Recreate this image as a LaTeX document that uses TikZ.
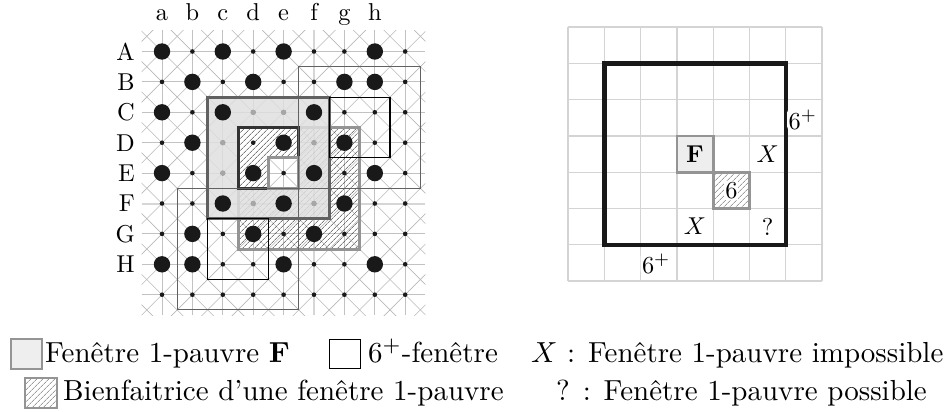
\documentclass[tikz,border=0pt]{standalone}
\usepackage{graphicx}
\usetikzlibrary{patterns.meta}
\definecolor{dotc}{gray}{0.1}
\definecolor{gridc}{gray}{0.76}
\definecolor{diagc}{gray}{0.72}
\definecolor{fborder}{gray}{0.38}
\definecolor{hborder}{gray}{0.58}
\definecolor{rgridc}{gray}{0.83}
\newcommand{\labtxt}[1]{\scalebox{2.44}{#1}}
\newcommand{\legtxt}[1]{\scalebox{2.9}{#1}}
\newcommand{\leftgridlines}{%
  \begin{scope}
    \clip (-0.67,-0.7) rectangle (8.66,8.67);
    \foreach \k in {-10,...,18} {
      \draw[diagc, line width=0.6pt] (\k-1,-1) -- (\k+11,11);
      \draw[diagc, line width=0.6pt] (\k+1,-1) -- (\k-11,11);
    }
  \end{scope}
  \foreach \i in {0,...,8} {
    \draw[gridc, line width=0.9pt] (-0.67,\i) -- (8.66,\i);
    \draw[gridc, line width=0.9pt] (\i,-0.7) -- (\i,8.67);
  }
  \draw[gray!32, line width=2pt] (-0.67,5) -- (8.66,5);
  \draw[gray!32, line width=2pt] (5,-0.7) -- (5,8.67);
}
\begin{document}
\begin{tikzpicture}[x=1pt,y=-1pt,
  hatch/.style={pattern={Lines[angle=45,distance=4pt,line width=0.6pt]}, pattern color=black!80},
  ghatch/.style={pattern={Lines[angle=45,distance=4pt,line width=0.5pt]}, pattern color=black!60},
  thinwin/.style={line width=1.1pt},
  every node/.style={inner sep=0pt}]
\useasboundingbox (0,0) rectangle (945,412);

% ---------------- left grid ----------------
\begin{scope}[shift={(162,51.5)},x=30.4pt,y=-30.4pt]
  \leftgridlines
  % bienfaitrice (hatched 4x4)
  \fill[hatch] (2.5,2.5) rectangle (6.5,6.5);
  \draw[hborder, line width=3pt] (2.5,2.5) rectangle (6.5,6.5);
  % window F
  \fill[gray!25, fill opacity=0.85] (1.5,1.5) rectangle (5.5,5.5);
  % black 2x2 square
  \fill[white] (2.5,2.5) rectangle (4.5,4.5);
  \fill[hatch] (2.5,2.5) rectangle (4.5,4.5);
  % white cell e,E
  \begin{scope}
    \clip (3.5,3.5) rectangle (4.5,4.5);
    \fill[white] (3.5,3.5) rectangle (4.5,4.5);
    \leftgridlines
  \end{scope}
  % borders
  \draw[fborder, line width=3pt] (1.5,1.5) rectangle (5.5,5.5);
  \draw[black!80, line width=3pt] (2.5,2.5) rectangle (4.5,4.5);
  \draw[hborder, line width=3pt] (3.5,3.5) rectangle (4.5,4.5);
  % thin windows
  \draw[fborder, thinwin] (4.5,0.5) rectangle (8.5,4.5);
  \draw[black, thinwin] (5.5,1.5) rectangle (7.5,3.5);
  \draw[fborder, thinwin] (0.5,4.5) rectangle (4.5,8.5);
  \draw[black, thinwin] (1.5,5.5) rectangle (3.5,7.5);
  % dots
  \foreach \x in {0,...,8} \foreach \y in {0,...,8}
    \fill[dotc] (\x,\y) circle (2.3pt);
  \foreach \x/\y in {3/2,4/2,2/3,5/3,2/4,3/5,5/5}
    \fill[gray!70] (\x,\y) circle (2.7pt);
  \foreach \x/\y in {0/0,2/0,4/0,7/0, 1/1,3/1,6/1,7/1, 0/2,2/2,5/2, 1/3,4/3,6/3,
                     0/4,3/4,5/4,7/4, 2/5,4/5,6/5, 1/6,3/6,5/6, 0/7,1/7,4/7,7/7}
    \fill[dotc] (\x,\y) circle (8.2pt);
  % labels
  \foreach \c [count=\i from 0] in {a,b,c,d,e,f,g,h}
    \node[anchor=base] (col\c) at (\i,-1.036) {\labtxt{\c}};
  \foreach \c [count=\i from 0] in {A,B,C,D,E,F,G,H}
    \node[anchor=east] (row\c) at (-0.89,\i) {\labtxt{\c}};
\end{scope}

% ---------------- right grid ----------------
\begin{scope}[shift={(568,27)},x=36.3pt,y=-36.3pt]
  \foreach \i in {0,...,7} {
    \draw[rgridc, line width=1.3pt] (\i,0) -- (\i,7);
    \draw[rgridc, line width=1.3pt] (0,\i) -- (7,\i);
  }
  \draw[black!90, line width=4.5pt] (1,1) rectangle (6,6);
  \fill[gray!13] (3,3) rectangle (4,4);
  \draw[hborder, line width=2.6pt] (3,3) rectangle (4,4);
  \fill[ghatch] (4,4) rectangle (5,5);
  \draw[hborder, line width=2.6pt] (4,4) rectangle (5,5);
  \node (rF) at (3.5,3.5) {\labtxt{\textbf{F}}};
  \node[fill=white, inner sep=0.8pt] (r6) at (4.5,4.5) {\labtxt{6}};
  \node (rX1) at (5.5,3.5) {\labtxt{$X$}};
  \node (rX2) at (3.5,5.5) {\labtxt{$X$}};
  \node (rQ) at (5.5,5.5) {\labtxt{?}};
  \node[fill=white, rounded corners=4pt, inner sep=1.5pt] (r6a) at (6.47,2.55) {\labtxt{$6^+$}};
  \node[fill=white, rounded corners=4pt, inner sep=1.5pt] (r6b) at (2.43,6.52) {\labtxt{$6^+$}};
\end{scope}

% ---------------- legend ----------------
\draw[hborder, fill=gray!13, line width=2.6pt] (11,339) rectangle (42,369);
\node[anchor=base west] (l1) at (45,362) {\legtxt{Fenêtre 1-pauvre \textbf{F}}};
\draw[black, line width=1pt] (329,339) rectangle (360,368);
\node[anchor=base west] (l2) at (368,362) {\legtxt{6$^+$-fenêtre}};
\node[anchor=base west] (l3) at (531,362) {\legtxt{$X$ : Fenêtre 1-pauvre impossible}};
\fill[ghatch] (25,378) rectangle (57,408);
\draw[hborder, line width=2.6pt] (25,378) rectangle (57,408);
\node[anchor=base west] (l4) at (63,400) {\legtxt{Bienfaitrice d'une fenêtre 1-pauvre}};
\node[anchor=base west] (l5) at (556,400) {\legtxt{? : Fenêtre 1-pauvre possible}};
\end{tikzpicture}
\end{document}
